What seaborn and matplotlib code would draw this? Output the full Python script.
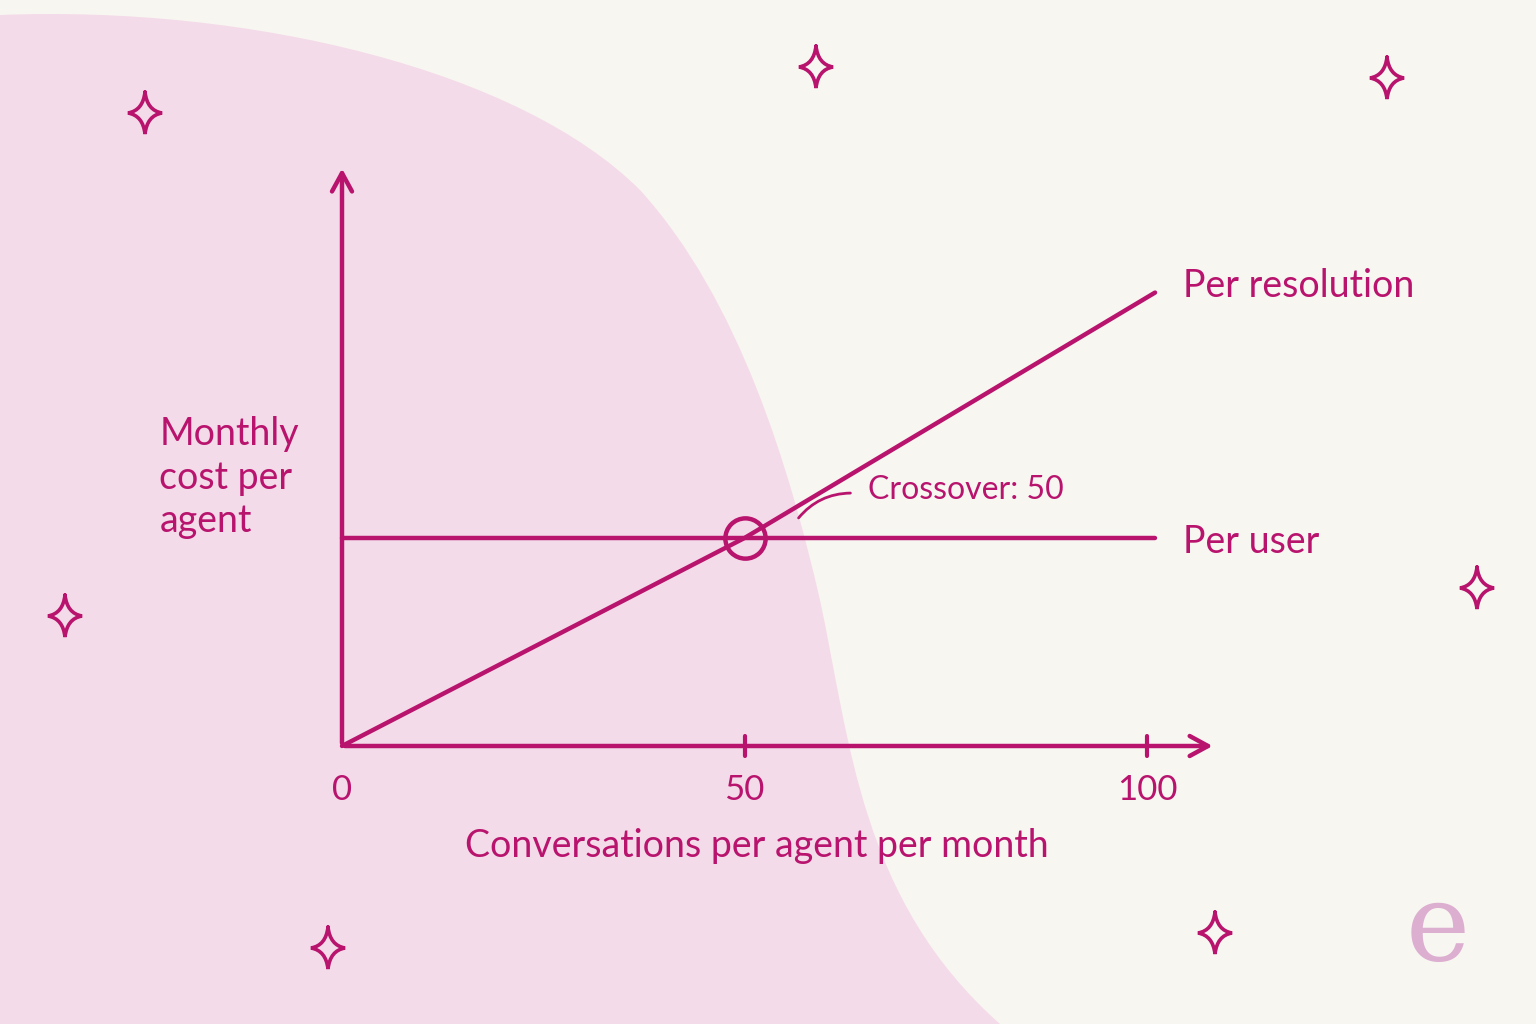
import numpy as np
import pandas as pd
import matplotlib
matplotlib.use("Agg")
import matplotlib.pyplot as plt
from matplotlib.path import Path
from matplotlib.patches import PathPatch
import seaborn as sns

# data
conversations = [0, 50, 101]
per_resolution = [0, 50, 109]
per_user_x = [0, 101]
per_user = [50, 50]
crossover = 50
x_ticks = [0, 50, 100]
x_tick_labels = ["0", "50", "100"]

MAGENTA = "#b8146e"
PINK = "#f4dbe9"
BG = "#f8f6f1"

sns.set_theme(style="white")
plt.rcParams["font.family"] = ["Lato", "DejaVu Sans"]

fig = plt.figure(figsize=(15.36, 10.24), dpi=100, facecolor=BG)

# background layer in pixel coords
bg = fig.add_axes([0, 0, 1, 1], zorder=0)
bg.set_xlim(0, 1536)
bg.set_ylim(1024, 0)
bg.axis("off")
bg.set_facecolor(BG)

blob = Path(
    [(0, 15), (250, 5), (520, 70), (640, 190),
     (740, 300), (790, 470), (820, 600),
     (850, 740), (860, 900), (1000, 1024),
     (0, 1024), (0, 15)],
    [Path.MOVETO, Path.CURVE4, Path.CURVE4, Path.CURVE4,
     Path.CURVE4, Path.CURVE4, Path.CURVE4,
     Path.CURVE4, Path.CURVE4, Path.CURVE4,
     Path.LINETO, Path.CLOSEPOLY])
bg.add_patch(PathPatch(blob, facecolor=PINK, edgecolor="none"))


def sparkle(ax, cx, cy, rx=17, ry=21):
    k = 0.12
    verts = [(cx, cy - ry),
             (cx + rx * k, cy - ry * k), (cx + rx, cy),
             (cx + rx * k, cy + ry * k), (cx, cy + ry),
             (cx - rx * k, cy + ry * k), (cx - rx, cy),
             (cx - rx * k, cy - ry * k), (cx, cy - ry)]
    codes = [Path.MOVETO] + [Path.CURVE3] * 8
    ax.add_patch(PathPatch(Path(verts, codes), facecolor="none",
                           edgecolor=MAGENTA, lw=2.6, capstyle="round"))


for sx, sy in [(145, 113), (816, 67), (1387, 78), (65, 616),
               (1477, 588), (328, 948), (1215, 933)]:
    sparkle(bg, sx, sy)

bg.text(1438, 930, "e", color="#dcaed0", fontsize=78, family="DejaVu Serif",
        ha="center", va="center")

# main chart, full-figure axes mapped so origin sits at pixel (342, 746)
ax = fig.add_axes([0, 0, 1, 1], zorder=1)
ax.patch.set_alpha(0)
px_x, px_y = 8.05, 4.16
ax.set_xlim(-342 / px_x, (1536 - 342) / px_x)
ax.set_ylim(-(1024 - 746) / px_y, 746 / px_y)
ax.axis("off")

df_res = pd.DataFrame({"x": conversations, "y": per_resolution})
df_user = pd.DataFrame({"x": per_user_x, "y": per_user})
sns.lineplot(data=df_res, x="x", y="y", ax=ax, color=MAGENTA, lw=3.2)
sns.lineplot(data=df_user, x="x", y="y", ax=ax, color=MAGENTA, lw=3.2)

# axes with arrows
ax.annotate("", xy=(108.5, 0), xytext=(0, 0),
            arrowprops=dict(arrowstyle="->,head_length=1.1,head_width=0.6", color=MAGENTA, lw=3.2))
ax.annotate("", xy=(0, 139.5), xytext=(0, 0),
            arrowprops=dict(arrowstyle="->,head_length=1.1,head_width=0.6", color=MAGENTA, lw=3.2))

for t in x_ticks[1:]:
    ax.plot([t, t], [-2.4, 2.4], color=MAGENTA, lw=3, solid_capstyle="round")
for t, lab in zip(x_ticks, x_tick_labels):
    ax.text(t, -10.5, lab, color=MAGENTA, fontsize=25, ha="center", va="center")

ax.text(51.5, -24, "Conversations per agent per month", color=MAGENTA,
        fontsize=27, ha="center", va="center")
ax.text(-22.7, 64.5, "Monthly\ncost per\nagent", color=MAGENTA, fontsize=27,
        ha="left", va="center", linespacing=1.25)

# crossover marker and label
ax.plot([crossover], [50], marker="o", ms=29, mfc="none", mec=MAGENTA, mew=3.2)
ax.text(65.3, 61.5, "Crossover: 50", color=MAGENTA, fontsize=23, ha="left", va="center")
ax.annotate("", xy=(56.5, 54.3), xytext=(63.5, 60.8),
            arrowprops=dict(arrowstyle="-", color=MAGENTA, lw=2,
                            connectionstyle="arc3,rad=0.25"))

ax.text(104.5, 110.5, "Per resolution", color=MAGENTA, fontsize=27, ha="left", va="center")
ax.text(104.5, 49, "Per user", color=MAGENTA, fontsize=27, ha="left", va="center")

fig.savefig("out.png", dpi=100, facecolor=BG)
